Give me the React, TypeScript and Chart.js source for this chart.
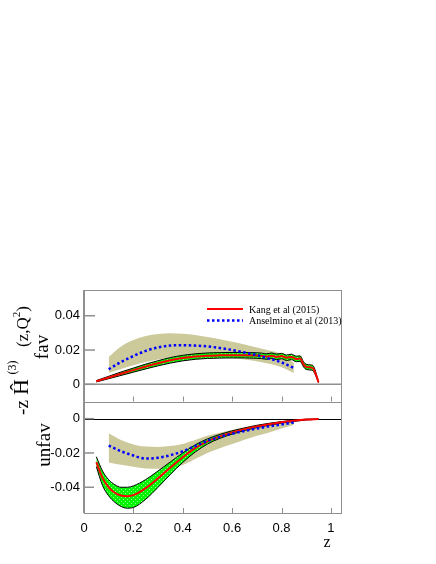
import { useEffect, useRef } from 'react';
import { Chart, registerables } from 'chart.js';
Chart.register(...registerables);

// ---------- data ----------
const xTicks = [0, 0.2, 0.4, 0.6, 0.8, 1];
const favTicks = [0, 0.02, 0.04];
const unfavTicks = [0, -0.02, -0.04];

// Kang et al (2015), favoured
const zKangFav = [0.05, 0.1, 0.15, 0.2, 0.25, 0.3, 0.35, 0.4, 0.45, 0.5, 0.55, 0.6, 0.65, 0.7, 0.72, 0.74, 0.76, 0.78, 0.8, 0.82, 0.84, 0.86, 0.875, 0.89, 0.9, 0.92, 0.93, 0.95];
const kangFav = [0.0018, 0.004, 0.0062, 0.0083, 0.0104, 0.0123, 0.014, 0.0153, 0.0162, 0.0167, 0.0169, 0.017, 0.017, 0.0168, 0.0166, 0.0162, 0.0167, 0.016, 0.0165, 0.0155, 0.016, 0.0148, 0.015, 0.0115, 0.0102, 0.0098, 0.009, 0.0012];
const kangFavHi = [0.0022, 0.0047, 0.0072, 0.0095, 0.0118, 0.0138, 0.0156, 0.0169, 0.0178, 0.0183, 0.0185, 0.0186, 0.0186, 0.0184, 0.0182, 0.0178, 0.0183, 0.0176, 0.0181, 0.0171, 0.0176, 0.0164, 0.0166, 0.013, 0.0117, 0.0113, 0.0105, 0.0014];
const kangFavLo = [0.0014, 0.0033, 0.0052, 0.0071, 0.009, 0.0108, 0.0124, 0.0137, 0.0146, 0.0151, 0.0153, 0.0154, 0.0154, 0.0152, 0.015, 0.0146, 0.0151, 0.0144, 0.0149, 0.0139, 0.0144, 0.0132, 0.0134, 0.01, 0.0087, 0.0083, 0.0075, 0.001];

// Anselmino et al (2013), favoured
const zAnsFav = [0.1, 0.15, 0.2, 0.25, 0.3, 0.35, 0.4, 0.45, 0.5, 0.55, 0.6, 0.65, 0.7, 0.75, 0.8, 0.85];
const ansFav = [0.0088, 0.013, 0.0165, 0.0195, 0.0215, 0.0226, 0.0228, 0.0226, 0.0221, 0.0212, 0.02, 0.0186, 0.017, 0.015, 0.0128, 0.0095];
const ansFavHi = [0.016, 0.022, 0.0258, 0.0282, 0.0294, 0.0298, 0.0295, 0.0287, 0.0276, 0.0263, 0.0248, 0.0232, 0.0215, 0.0198, 0.0178, 0.0125];
const ansFavLo = [0.0068, 0.009, 0.0112, 0.013, 0.0145, 0.0155, 0.016, 0.0162, 0.016, 0.0157, 0.0152, 0.0145, 0.0135, 0.012, 0.01, 0.0066];

// Kang et al (2015), unfavoured
const zKangUnf = [0.05, 0.075, 0.1, 0.125, 0.15, 0.175, 0.2, 0.25, 0.3, 0.35, 0.4, 0.45, 0.5, 0.55, 0.6, 0.65, 0.7, 0.75, 0.8, 0.85, 0.9, 0.95];
const kangUnf = [-0.0253, -0.0345, -0.04, -0.0432, -0.0448, -0.0452, -0.0446, -0.0405, -0.0348, -0.0285, -0.0225, -0.0172, -0.0132, -0.0103, -0.008, -0.0061, -0.0045, -0.0032, -0.0021, -0.0012, -0.0005, -0.0002];
const kangUnfHi = [-0.0222, -0.0305, -0.0356, -0.0385, -0.04, -0.04, -0.0392, -0.0355, -0.0305, -0.0252, -0.02, -0.0153, -0.0118, -0.0092, -0.0071, -0.0054, -0.0039, -0.0027, -0.0017, -0.0009, -0.0003, -0.0001];
const kangUnfLo = [-0.028, -0.039, -0.045, -0.0488, -0.0512, -0.0522, -0.0518, -0.047, -0.04, -0.0325, -0.0255, -0.0195, -0.0148, -0.0115, -0.009, -0.0069, -0.0052, -0.0038, -0.0026, -0.0016, -0.0008, -0.0003];

// Anselmino et al (2013), unfavoured
const zAnsUnf = [0.1, 0.15, 0.2, 0.25, 0.3, 0.35, 0.4, 0.45, 0.5, 0.55, 0.6, 0.65, 0.7, 0.75, 0.8, 0.85];
const ansUnf = [-0.0157, -0.019, -0.0215, -0.0233, -0.0228, -0.0213, -0.019, -0.016, -0.013, -0.0106, -0.0088, -0.0072, -0.0058, -0.0045, -0.0034, -0.0022];
const ansUnfHi = [-0.0085, -0.0125, -0.015, -0.0163, -0.0165, -0.016, -0.0148, -0.0125, -0.01, -0.0082, -0.0066, -0.005, -0.0035, -0.0025, -0.0016, -0.0008];
const ansUnfLo = [-0.0255, -0.0268, -0.028, -0.029, -0.0292, -0.0285, -0.027, -0.0235, -0.02, -0.0172, -0.0148, -0.0123, -0.01, -0.008, -0.0058, -0.0036];

const legendLabels = ['Kang et al (2015)', 'Anselmino et al (2013)'];

// ---------- styles ----------
const RED = '#ff0000';
const BLUE = '#0000ff';
const KHAKI = 'rgb(204,201,155)';
const FRAME = '#8f8f8f';
const SERIF = '"Liberation Serif", "Times New Roman", serif';
const SANS = '"Liberation Sans", Arial, sans-serif';

const pts = (xs: number[], ys: number[]) => xs.map((x, i) => ({ x, y: ys[i] }));

function makeGreen(): CanvasPattern | string {
  const c = document.createElement('canvas');
  c.width = 4; c.height = 4;
  const g = c.getContext('2d');
  if (!g) return '#00ff00';
  g.fillStyle = '#00f400';
  g.fillRect(0, 0, 4, 4);
  g.fillStyle = '#8aff8a';
  g.fillRect(1, 1, 1, 1);
  g.fillRect(3, 3, 1, 1);
  const p = g.createPattern(c, 'repeat');
  return p || '#00ff00';
}

const framePlugin = {
  id: 'frames',
  beforeDatasetsDraw(chart: any) {
    const ctx = chart.ctx;
    const { left, right } = chart.chartArea;
    const yT = chart.scales.yT;
    const yB = chart.scales.yB;
    ctx.save();
    ctx.strokeStyle = FRAME;
    ctx.lineWidth = 1.5;
    let y0 = yT.getPixelForValue(0);
    ctx.beginPath(); ctx.moveTo(left, y0); ctx.lineTo(right, y0); ctx.stroke();
    ctx.strokeStyle = '#000';
    ctx.lineWidth = 1;
    y0 = Math.round(yB.getPixelForValue(0)) + 0.5;
    ctx.beginPath(); ctx.moveTo(left, y0); ctx.lineTo(right, y0); ctx.stroke();
    ctx.restore();
  },
  afterDatasetsDraw(chart: any) {
    const ctx = chart.ctx;
    const { left, right } = chart.chartArea;
    const xs = chart.scales.x;
    const yT = chart.scales.yT;
    const yB = chart.scales.yB;
    ctx.save();
    ctx.strokeStyle = FRAME;
    for (const s of [yT, yB]) {
      ctx.lineWidth = 1;
      ctx.strokeRect(left + 0.5, Math.round(s.top) + 0.5, right - left - 1, Math.round(s.bottom) - Math.round(s.top));
      ctx.lineWidth = 2;
      ctx.beginPath(); ctx.moveTo(left, s.top); ctx.lineTo(left, s.bottom); ctx.stroke();
    }
    ctx.lineWidth = 1.5;
    for (const v of favTicks) {
      const y = yT.getPixelForValue(v);
      ctx.beginPath(); ctx.moveTo(left - 1, y); ctx.lineTo(left + 11, y); ctx.stroke();
    }
    for (const v of unfavTicks) {
      const y = yB.getPixelForValue(v);
      ctx.beginPath(); ctx.moveTo(left - 1, y); ctx.lineTo(left + 10, y); ctx.stroke();
    }
    ctx.lineWidth = 1;
    for (const v of xTicks) {
      const x = Math.round(xs.getPixelForValue(v)) + 0.5;
      for (const s of [yT, yB]) {
        ctx.beginPath(); ctx.moveTo(x, s.bottom); ctx.lineTo(x, s.bottom - 5); ctx.stroke();
      }
    }
    ctx.restore();
  },
  afterDraw(chart: any) {
    const ctx = chart.ctx;
    ctx.save();
    ctx.fillStyle = '#000';
    ctx.lineWidth = 2;
    ctx.strokeStyle = RED;
    ctx.beginPath(); ctx.moveTo(207, 309); ctx.lineTo(243, 309); ctx.stroke();
    ctx.strokeStyle = BLUE;
    ctx.lineWidth = 2.5;
    ctx.setLineDash([2.5, 2.5]);
    ctx.beginPath(); ctx.moveTo(207, 320.5); ctx.lineTo(243, 320.5); ctx.stroke();
    ctx.setLineDash([]);
    ctx.font = `10px ${SERIF}`;
    ctx.textAlign = 'left';
    ctx.textBaseline = 'middle';
    ctx.fillText(legendLabels[0], 249, 310);
    ctx.fillText(legendLabels[1], 249, 321);

    ctx.textAlign = 'center';
    ctx.textBaseline = 'alphabetic';
    ctx.font = `16px ${SERIF}`;
    ctx.fillText('z', 327, 547);

    ctx.rotate(-Math.PI / 2);
    ctx.font = `19px ${SERIF}`;
    ctx.fillText('fav', -347, 48);
    ctx.fillText('unfav', -445, 50);

    ctx.font = `19px ${SERIF}`;
    ctx.fillText('-z', -407.5, 28);
    ctx.font = `22px ${SERIF}`;
    ctx.fillText('\u0124', -387, 28);
    ctx.font = `12px ${SERIF}`;
    ctx.fillText('(3)', -367.5, 16);
    ctx.textAlign = 'left';
    ctx.font = `17px ${SERIF}`;
    let u = -347;
    const a = '(z,Q';
    ctx.fillText(a, u, 28);
    u += ctx.measureText(a).width;
    ctx.font = `11px ${SERIF}`;
    ctx.fillText('2', u, 20);
    u += ctx.measureText('2').width;
    ctx.font = `17px ${SERIF}`;
    ctx.fillText(')', u, 28);
    ctx.restore();
  },
};

export default function App() {
  const ref = useRef<HTMLCanvasElement | null>(null);
  useEffect(() => {
    if (!ref.current) return;
    const green = makeGreen();
    const line = (data: any, color: string, axis: string, extra: any = {}) => ({
      data,
      yAxisID: axis,
      borderColor: color,
      backgroundColor: 'transparent',
      pointRadius: 0,
      cubicInterpolationMode: 'monotone',
      fill: false,
      ...extra,
    });
    const datasets: any[] = [
      line(pts(zAnsFav, ansFav), BLUE, 'yT', { borderWidth: 2.5, borderDash: [2.5, 2.5] }),
      line(pts(zAnsUnf, ansUnf), BLUE, 'yB', { borderWidth: 2.5, borderDash: [2.5, 2.5] }),
      line(pts(zKangFav, kangFav), RED, 'yT', { borderWidth: 2 }),
      line(pts(zKangUnf, kangUnf), RED, 'yB', { borderWidth: 2 }),
      line(pts(zKangFav, kangFavHi), '#000', 'yT', { borderWidth: 1, fill: '+1', backgroundColor: green }),
      line(pts(zKangFav, kangFavLo), '#000', 'yT', { borderWidth: 1 }),
      line(pts(zKangUnf, kangUnfHi), '#000', 'yB', { borderWidth: 1, fill: '+1', backgroundColor: green }),
      line(pts(zKangUnf, kangUnfLo), '#000', 'yB', { borderWidth: 1 }),
      line(pts(zAnsFav, ansFavHi), 'transparent', 'yT', { borderWidth: 0, fill: '+1', backgroundColor: KHAKI }),
      line(pts(zAnsFav, ansFavLo), 'transparent', 'yT', { borderWidth: 0 }),
      line(pts(zAnsUnf, ansUnfHi), 'transparent', 'yB', { borderWidth: 0, fill: '+1', backgroundColor: KHAKI }),
      line(pts(zAnsUnf, ansUnfLo), 'transparent', 'yB', { borderWidth: 0 }),
    ];
    const tickFont = { family: SANS, size: 13 };
    const noGrid = { display: false, drawTicks: false, tickLength: 0 };
    const yTicks = { stepSize: 0.02, includeBounds: false, padding: 4, color: '#000', font: tickFont,
      callback: (v: any) => String(Math.round(Number(v) * 100) / 100) };
    const chart = new Chart(ref.current, {
      type: 'line',
      data: { datasets },
      options: {
        animation: false,
        responsive: false,
        events: [],
        layout: { padding: { left: 0, top: 290, right: 94, bottom: 0 } },
        plugins: {
          legend: { display: false },
          tooltip: { enabled: false },
          filler: { drawTime: 'beforeDatasetsDraw' },
        } as any,
        scales: {
          x: {
            type: 'linear',
            position: 'bottom',
            min: 0,
            max: 1.045,
            grid: noGrid,
            border: { display: false },
            ticks: {
              stepSize: 0.2,
              includeBounds: false,
              padding: 8,
              color: '#000',
              font: tickFont,
              maxRotation: 0,
              callback: (v: any) => String(Math.round(Number(v) * 10) / 10),
            },
            afterFit: (s: any) => { s.height = 51; },
          },
          yB: {
            type: 'linear',
            position: 'left',
            stack: 'panels',
            stackWeight: 1,
            min: -0.055,
            max: 0.01,
            grid: noGrid,
            border: { display: false },
            ticks: yTicks,
            afterFit: (s: any) => { s.width = 84; },
          },
          yT: {
            type: 'linear',
            position: 'left',
            stack: 'panels',
            stackWeight: 1,
            min: -0.01,
            max: 0.055,
            grid: noGrid,
            border: { display: false },
            ticks: yTicks,
            afterFit: (s: any) => { s.width = 84; },
          },
        } as any,
      },
      plugins: [framePlugin],
    });
    return () => chart.destroy();
  }, []);
  return (
    <div style={{ position: 'absolute', left: 0, top: 0, width: 436, height: 564, background: '#fff' }}>
      <canvas ref={ref} width={436} height={564} style={{ display: 'block' }} />
    </div>
  );
}
